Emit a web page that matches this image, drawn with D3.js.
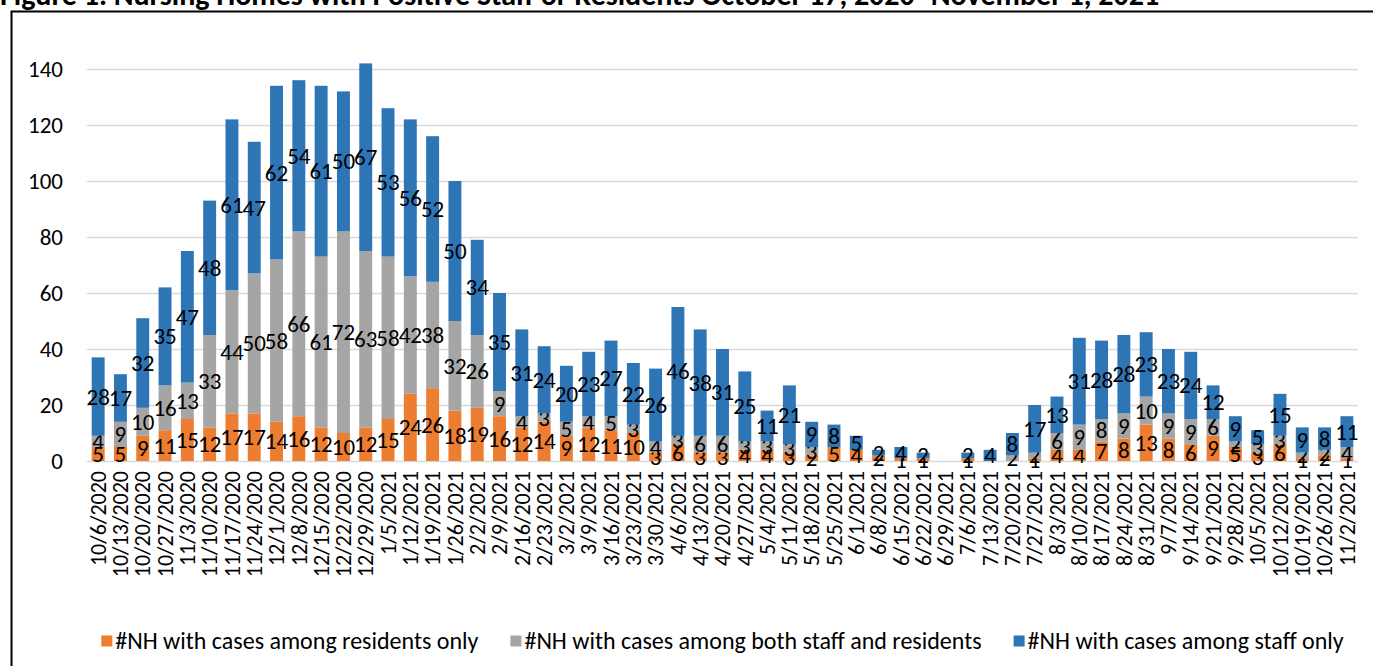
<!DOCTYPE html>
<html>
<head>
<meta charset="utf-8">
<script src="https://cdn.jsdelivr.net/npm/d3@7"></script>
<style>
  body { margin: 0; background: #fff; }
  svg { display: block; font-family: Carlito, Lato, "Open Sans", sans-serif; }
</style>
</head>
<body>
<script>
// weekly report dates
var weeks = ["10/6/2020", "10/13/2020", "10/20/2020", "10/27/2020", "11/3/2020", "11/10/2020",
  "11/17/2020", "11/24/2020", "12/1/2020", "12/8/2020", "12/15/2020", "12/22/2020", "12/29/2020",
  "1/5/2021", "1/12/2021", "1/19/2021", "1/26/2021", "2/2/2021", "2/9/2021", "2/16/2021",
  "2/23/2021", "3/2/2021", "3/9/2021", "3/16/2021", "3/23/2021", "3/30/2021", "4/6/2021",
  "4/13/2021", "4/20/2021", "4/27/2021", "5/4/2021", "5/11/2021", "5/18/2021", "5/25/2021",
  "6/1/2021", "6/8/2021", "6/15/2021", "6/22/2021", "6/29/2021", "7/6/2021", "7/13/2021",
  "7/20/2021", "7/27/2021", "8/3/2021", "8/10/2021", "8/17/2021", "8/24/2021", "8/31/2021",
  "9/7/2021", "9/14/2021", "9/21/2021", "9/28/2021", "10/5/2021", "10/12/2021", "10/19/2021",
  "10/26/2021", "11/2/2021"];

// null = blank cell (no label drawn)
var residentsOnly = [5, 5, 9, 11, 15, 12, 17, 17, 14, 16, 12, 10, 12, 15, 24, 26, 18, 19, 16, 12,
  14, 9, 12, 11, 10, 3, 6, 3, 3, 4, 4, 3, 2, 5, 4, 2, 1, 1, null, 1, null,
  null, 1, 4, 4, 7, 8, 13, 8, 6, 9, 5, 3, 6, 1, 2, 1];
var bothStaffResidents = [4, 9, 10, 16, 13, 33, 44, 50, 58, 66, 61, 72, 63, 58, 42, 38, 32, 26, 9, 4,
  3, 5, 4, 5, 3, 4, 3, 6, 6, 3, 3, 3, 3, null, null, null, null, null, null, null, null,
  2, 2, 6, 9, 8, 9, 10, 9, 9, 6, 2, 3, 3, 2, 2, 4];
var staffOnly = [28, 17, 32, 35, 47, 48, 61, 47, 62, 54, 61, 50, 67, 53, 56, 52, 50, 34, 35, 31,
  24, 20, 23, 27, 22, 26, 46, 38, 31, 25, 11, 21, 9, 8, 5, 2, 4, 2, null, 2, 4,
  8, 17, 13, 31, 28, 28, 23, 23, 24, 12, 9, 5, 15, 9, 8, 11];

var yTicks = [0, 20, 40, 60, 80, 100, 120, 140];
var seriesNames = ["#NH with cases among residents only",
  "#NH with cases among both staff and residents",
  "#NH with cases among staff only"];
var colors = ["#ED7D31", "#A5A5A5", "#2E75B6"];

var W = 1373, H = 666;
var plot = { left: 87, right: 1358, top: 69, bottom: 461 };

var svg = d3.select("body").append("svg")
    .attr("width", W)
    .attr("height", H);

// title, cut off at the top edge of the picture
svg.append("text")
    .attr("x", 0)
    .attr("y", 5)
    .attr("font-weight", "bold")
    .attr("font-size", 30)
    .attr("fill", "#000")
    .text("Figure 1. Nursing Homes with Positive Staff or Residents October 17, 2020- November 1, 2021");

// chart frame
svg.append("rect")
    .attr("x", 11.5)
    .attr("y", 11.5)
    .attr("width", W + 20)
    .attr("height", H + 20)
    .attr("fill", "none")
    .attr("stroke", "#000")
    .attr("stroke-width", 2);

var x = d3.scaleBand()
    .domain(weeks)
    .range([plot.left, plot.right])
    .paddingInner(0.42)
    .paddingOuter(0.21);

var y = d3.scaleLinear()
    .domain([0, 140])
    .range([plot.bottom, plot.top]);

// gridlines + y labels
svg.append("g")
    .attr("transform", "translate(" + plot.left + ",0)")
    .call(d3.axisLeft(y).tickValues(yTicks).tickSize(-(plot.right - plot.left)).tickPadding(24))
    .call(function (g) {
        g.select(".domain").remove();
        g.selectAll(".tick line").attr("stroke", "#d9d9d9").attr("stroke-width", 1.5);
        g.selectAll(".tick text")
            .attr("font-family", "Carlito, Lato, 'Open Sans', sans-serif")
            .attr("font-size", 23)
            .attr("fill", "#000");
    });

// stack the three series
var rows = weeks.map(function (w, i) {
    return { week: w, r: residentsOnly[i] || 0, b: bothStaffResidents[i] || 0, s: staffOnly[i] || 0 };
});
var raw = [residentsOnly, bothStaffResidents, staffOnly];
var stack = d3.stack().keys(["r", "b", "s"])(rows);

var layer = svg.append("g").selectAll("g")
    .data(stack)
    .enter().append("g")
        .attr("fill", function (d, i) { return colors[i]; });

layer.selectAll("rect")
    .data(function (d) { return d; })
    .enter().append("rect")
        .attr("x", function (d) { return x(d.data.week); })
        .attr("y", function (d) { return y(d[1]); })
        .attr("width", x.bandwidth())
        .attr("height", function (d) { return y(d[0]) - y(d[1]); });

// data labels, centred in each segment
layer.each(function (s, k) {
    d3.select(this).selectAll("text")
        .data(s.filter(function (d, i) { return raw[k][i] != null; }))
        .enter().append("text")
            .attr("x", function (d) { return x(d.data.week) + x.bandwidth() / 2; })
            .attr("y", function (d) { return y((d[0] + d[1]) / 2); })
            .attr("dy", "0.35em")
            .attr("text-anchor", "middle")
            .attr("font-size", 23)
            .attr("fill", "#000")
            .text(function (d) { return d[1] - d[0]; });
});

// x axis labels, rotated
svg.append("g").selectAll("text")
    .data(weeks)
    .enter().append("text")
        .attr("transform", function (d) {
            return "translate(" + (x(d) + x.bandwidth() / 2) + "," + (plot.bottom + 10) + ") rotate(-90)";
        })
        .attr("dy", "0.35em")
        .attr("text-anchor", "end")
        .attr("font-size", 22)
        .attr("fill", "#000")
        .text(function (d) { return d; });

// legend, centred under the plot
var legend = svg.append("g").attr("font-size", 24);
var items = legend.selectAll("g")
    .data(seriesNames)
    .enter().append("g");
items.append("rect")
    .attr("width", 11)
    .attr("height", 11)
    .attr("y", -5.5)
    .attr("fill", function (d, i) { return colors[i]; });
items.append("text")
    .attr("x", 14)
    .attr("dy", "0.35em")
    .attr("fill", "#000")
    .text(function (d) { return d; });

var gap = 32, offs = [], total = 0;
items.each(function (d, i) {
    var w = 14 + this.querySelector("text").getComputedTextLength();
    offs.push(total);
    total += w + (i < seriesNames.length - 1 ? gap : 0);
});
var startX = (plot.left + plot.right) / 2 - total / 2;
items.attr("transform", function (d, i) { return "translate(" + (startX + offs[i]) + ",641)"; });
</script>
</body>
</html>
